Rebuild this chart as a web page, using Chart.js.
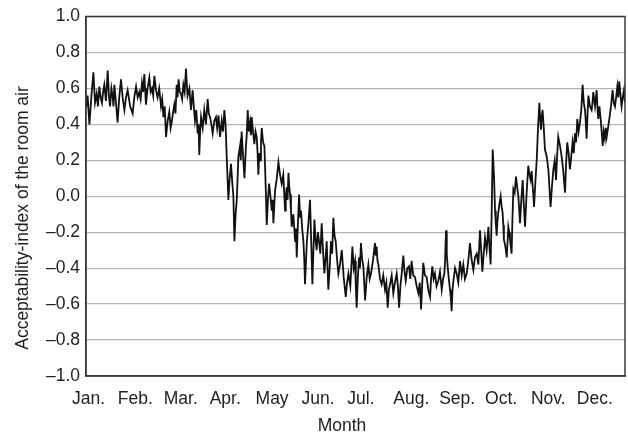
<!DOCTYPE html>
<html>
<head>
<meta charset="utf-8">
<script src="https://cdn.jsdelivr.net/npm/chart.js@4"></script>
<style>
  body { margin: 0; background: #fff; }
  canvas { display: block; }
</style>
</head>
<body>
<canvas id="myChart" width="628" height="435"></canvas>
<script>
// [day of year, acceptability index]
const janToMar = [
  [0, 0.49], [1.1, 0.56], [2.3, 0.40], [3.6, 0.55], [5.0, 0.69], [6.1, 0.52], [7.2, 0.57], [8.1, 0.50],
  [9.0, 0.61], [9.9, 0.55], [10.8, 0.52], [11.6, 0.58], [12.4, 0.62], [13.5, 0.53], [14.7, 0.70], [15.5, 0.56],
  [16.3, 0.50], [17.2, 0.60], [18.1, 0.55], [18.6, 0.50], [19.2, 0.62], [20.3, 0.52], [21.4, 0.41], [22.5, 0.55],
  [23.7, 0.65], [24.8, 0.55], [26.0, 0.48], [27.1, 0.55], [28.2, 0.59], [29.9, 0.50], [31.6, 0.46], [32.7, 0.55],
  [33.9, 0.61], [35.0, 0.55], [36.1, 0.58], [37.0, 0.54], [37.9, 0.63], [38.7, 0.58], [39.5, 0.68], [40.0, 0.60],
  [40.6, 0.51], [41.7, 0.60], [42.9, 0.66], [43.8, 0.58], [44.7, 0.60], [45.5, 0.56], [46.3, 0.67], [47.4, 0.59],
  [48.5, 0.55], [49.6, 0.60], [50.8, 0.50], [51.6, 0.54], [52.4, 0.44], [53.3, 0.50], [54.2, 0.33], [55.3, 0.42],
  [56.4, 0.47], [57.3, 0.38], [58.2, 0.42], [59.0, 0.47], [59.8, 0.51], [60.6, 0.46], [61.4, 0.62], [62.0, 0.55],
  [62.7, 0.65], [63.5, 0.58], [64.3, 0.57], [65.1, 0.54], [65.9, 0.62], [66.8, 0.58], [67.7, 0.71], [68.3, 0.62],
  [68.8, 0.56], [70.0, 0.60], [71.1, 0.48], [71.6, 0.53], [72.2, 0.59], [73.0, 0.50], [73.8, 0.42], [74.7, 0.48],
  [75.6, 0.35], [76.2, 0.40], [76.7, 0.23], [77.3, 0.36], [77.9, 0.44], [79.0, 0.38], [80.1, 0.48], [81.2, 0.40],
  [82.4, 0.54], [83.2, 0.46], [84.0, 0.44], [84.9, 0.40], [85.8, 0.35], [86.9, 0.42], [88.0, 0.44], [88.8, 0.38],
  [89.7, 0.45],
];
const aprToJun = [
  [90.8, 0.33], [91.9, 0.42], [92.8, 0.36], [93.7, 0.48], [94.5, 0.40], [95.3, 0.22], [96.4, -0.02], [97.3, 0.10],
  [98.2, 0.18], [99.1, 0.07], [99.8, 0.0], [100.5, -0.25], [101.3, -0.10], [102.1, -0.02], [103.2, 0.22], [104.3, 0.28],
  [104.8, 0.20], [105.4, 0.36], [106.4, 0.22], [107.3, 0.10], [108.2, 0.26], [108.9, 0.35], [109.5, 0.48], [110.3, 0.36],
  [111.1, 0.41], [111.7, 0.34], [112.2, 0.44], [113.1, 0.36], [114.0, 0.29], [114.8, 0.36], [115.6, 0.33], [116.2, 0.24],
  [116.7, 0.12], [117.3, 0.24], [117.9, 0.20], [118.5, 0.30], [119.0, 0.38], [119.9, 0.30], [120.8, 0.28], [121.7, 0.05],
  [122.4, -0.16], [123.2, -0.02], [124.0, 0.07], [124.9, 0.0], [125.8, -0.08], [126.4, -0.02], [126.9, -0.15], [127.5, -0.05],
  [128.0, 0.03], [129.2, 0.10], [130.3, 0.19], [131.4, 0.12], [132.5, 0.07], [133.6, 0.12], [134.8, -0.08], [135.3, 0.0],
  [135.9, 0.05], [136.5, -0.02], [137.1, 0.13], [137.6, 0.06], [138.2, 0.01], [138.8, -0.08], [139.3, -0.17], [140.4, -0.10],
  [141.6, -0.25], [142.2, -0.18], [142.7, -0.34], [143.5, -0.15], [144.3, 0.01], [145.0, -0.12], [145.6, -0.08], [146.4, -0.18],
  [147.2, -0.25], [147.8, -0.35], [148.3, -0.49], [148.9, -0.38], [149.5, -0.26], [150.6, -0.15], [151.7, -0.02], [152.5, -0.25],
  [153.3, -0.49], [154.0, -0.30], [154.7, -0.13], [155.5, -0.25], [156.2, -0.30], [157.0, -0.20], [157.8, -0.25], [158.7, -0.32],
  [159.6, -0.15], [160.5, -0.30], [161.4, -0.43], [162.2, -0.35], [163.0, -0.25], [163.5, -0.38], [164.1, -0.52], [165.0, -0.40],
  [165.9, -0.25], [166.7, -0.32], [167.5, -0.12], [168.3, -0.22], [169.1, -0.25], [170.0, -0.35], [170.9, -0.43], [172.0, -0.38],
  [173.2, -0.30], [174.5, -0.45], [175.9, -0.56], [176.8, -0.48], [177.7, -0.43], [179.0, -0.50], [180.4, -0.28],
];
const julToSep = [
  [181.3, -0.40], [182.2, -0.36], [182.7, -0.50], [183.3, -0.62], [184.1, -0.45], [184.9, -0.34], [185.5, -0.40], [186.2, -0.26],
  [187.0, -0.35], [187.8, -0.39], [188.4, -0.48], [189.0, -0.58], [190.1, -0.45], [191.2, -0.38], [192.1, -0.46], [193.0, -0.43],
  [194.3, -0.36], [195.7, -0.26], [196.2, -0.33], [196.8, -0.28], [197.4, -0.36], [198.0, -0.38], [199.1, -0.46], [200.2, -0.49],
  [201.3, -0.44], [202.5, -0.52], [203.4, -0.48], [204.3, -0.62], [205.1, -0.52], [205.9, -0.49], [207.0, -0.44], [208.1, -0.54],
  [209.2, -0.48], [210.4, -0.43], [211.2, -0.50], [212.0, -0.62], [212.9, -0.50], [213.8, -0.43], [214.3, -0.38], [214.9, -0.33],
  [215.7, -0.42], [216.5, -0.47], [217.6, -0.40], [218.7, -0.39], [219.6, -0.46], [220.5, -0.36], [221.6, -0.44], [222.8, -0.45],
  [223.9, -0.50], [225.1, -0.54], [226.0, -0.48], [226.9, -0.63], [227.6, -0.50], [228.4, -0.37], [229.5, -0.44], [230.7, -0.45],
  [231.8, -0.52], [233.0, -0.56], [233.7, -0.46], [234.5, -0.39], [235.4, -0.46], [236.3, -0.43], [237.4, -0.50], [238.6, -0.47],
  [239.7, -0.42], [240.9, -0.52], [241.8, -0.46], [242.7, -0.43], [243.2, -0.35], [243.8, -0.19], [244.3, -0.32], [244.9, -0.39],
  [245.7, -0.46], [246.5, -0.52], [247.0, -0.56], [247.6, -0.64], [248.2, -0.52], [248.8, -0.47], [249.9, -0.40], [251.0, -0.43],
  [252.1, -0.48], [253.3, -0.36], [254.4, -0.44], [255.5, -0.38], [256.6, -0.46], [257.8, -0.43], [258.9, -0.36], [260.0, -0.26],
  [261.1, -0.35], [262.3, -0.41], [263.4, -0.34], [264.6, -0.32], [265.7, -0.38], [266.8, -0.19], [267.6, -0.30], [268.4, -0.42],
  [269.3, -0.32], [270.2, -0.23],
];
const octToDec = [
  [271.3, -0.30], [272.5, -0.17], [273.2, -0.28], [274.0, -0.38], [274.7, -0.10], [275.4, 0.26], [275.9, 0.18], [276.3, 0.11],
  [277.0, -0.08], [277.5, -0.15], [278.1, -0.22], [278.6, -0.14], [279.2, -0.09], [280.0, -0.04], [280.8, 0.00], [281.5, -0.06],
  [282.1, -0.09], [282.6, -0.16], [283.0, -0.24], [284.0, -0.28], [284.9, -0.34], [285.5, -0.25], [286.0, -0.17], [286.6, -0.20],
  [287.1, -0.24], [287.7, -0.28], [288.2, -0.32], [288.8, -0.12], [289.4, 0.04], [290.3, 0.02], [291.2, 0.11], [292.0, 0.05],
  [292.8, 0.00], [293.4, -0.08], [293.9, -0.15], [294.8, -0.02], [295.7, 0.09], [296.5, -0.05], [297.3, -0.17], [298.4, 0.02],
  [299.5, 0.17], [300.3, 0.12], [301.1, 0.09], [301.8, 0.14], [302.5, 0.05], [303.0, 0.0], [303.4, -0.06], [304.3, 0.08],
  [305.2, 0.20], [306.1, 0.38], [307.0, 0.52], [307.5, 0.44], [308.1, 0.37], [308.6, 0.44], [309.2, 0.48], [310.0, 0.38],
  [310.8, 0.26], [312.0, 0.22], [313.1, 0.15], [313.8, 0.05], [314.6, -0.06], [315.5, 0.05], [316.5, 0.15], [317.4, 0.20],
  [318.3, 0.09], [319.0, 0.22], [319.8, 0.33], [321.0, 0.28], [322.1, 0.22], [323.2, 0.14], [324.4, 0.02], [325.1, 0.18],
  [325.9, 0.30], [326.8, 0.24], [327.7, 0.15], [328.6, 0.22], [329.5, 0.30], [330.3, 0.24], [331.1, 0.35], [331.9, 0.30],
  [332.7, 0.43], [333.6, 0.36], [334.5, 0.41], [335.4, 0.48], [336.3, 0.62], [337.1, 0.52], [337.9, 0.48], [338.4, 0.42],
  [339.0, 0.32], [339.6, 0.45], [340.2, 0.56], [341.3, 0.50], [342.4, 0.48], [343.0, 0.52], [343.5, 0.58], [344.7, 0.50],
  [345.8, 0.59], [346.3, 0.50], [346.9, 0.43], [347.7, 0.50], [348.5, 0.43], [349.2, 0.36], [349.9, 0.28], [350.6, 0.36],
  [351.4, 0.32], [352.0, 0.38], [352.6, 0.33], [353.5, 0.38], [354.4, 0.43], [355.5, 0.50], [356.6, 0.59], [357.4, 0.52],
  [358.2, 0.50], [359.0, 0.55], [359.8, 0.61], [360.5, 0.55], [361.1, 0.64], [361.9, 0.57], [362.7, 0.50], [363.5, 0.55],
  [364.3, 0.59], [365, 0.52],
];
const monthLabels = ['Jan.', 'Feb.', 'Mar.', 'Apr.', 'May', 'Jun.', 'Jul.', 'Aug.', 'Sep.', 'Oct.', 'Nov.', 'Dec.'];
const xTitle = 'Month';
const yTitle = 'Acceptability-index of the room air';

const FONT = '"Liberation Sans", Arial, Helvetica, sans-serif';

// labels are left aligned, one every ~31 days, starting a little left of the axis
const LABEL_START = -9.5;
const LABEL_STEP = 31.08;

// draws the box round the plot and the two axis titles
const frameAndTitles = {
  id: 'frameAndTitles',
  afterDraw(chart) {
    const { ctx, chartArea } = chart;
    ctx.save();
    ctx.strokeStyle = '#3a3a3a';
    ctx.lineWidth = 1.5;
    ctx.strokeRect(chartArea.left, chartArea.top, chartArea.right - chartArea.left, chartArea.bottom - chartArea.top);

    ctx.fillStyle = '#1e1e1e';
    ctx.font = '17.5px ' + FONT;
    ctx.textAlign = 'center';
    ctx.textBaseline = 'middle';
    ctx.fillText(xTitle, 342, 426);
    ctx.translate(23, 218);
    ctx.rotate(-Math.PI / 2);
    ctx.fillText(yTitle, 0, 0);
    ctx.restore();
  },
};

const series = [...janToMar, ...aprToJun, ...julToSep, ...octToDec];

const chart1 = document.getElementById('myChart').getContext('2d');
const myChart = new Chart(chart1, {
  type: 'line',
  data: {
    datasets: [
      {
        label: 'Acceptability',
        data: series.map(([d, v]) => ({ x: d, y: v })),
        borderColor: '#111111',
        borderWidth: 1.8,
        pointRadius: 0,
        tension: 0,
      },
    ],
  },
  options: {
    responsive: false,
    animation: false,
    devicePixelRatio: 1,
    layout: {
      padding: { top: 16, right: 3, left: 0, bottom: 0 },
    },
    scales: {
      x: {
        type: 'linear',
        min: 0,
        max: 365,
        grid: { display: false, drawTicks: false },
        border: { color: '#3a3a3a', width: 1.5 },
        afterBuildTicks: (scale) => {
          scale.ticks = monthLabels.map((m, i) => ({ value: LABEL_START + i * LABEL_STEP }));
        },
        afterFit: (scale) => {
          scale.height = 59;
        },
        ticks: {
          autoSkip: false,
          maxRotation: 0,
          align: 'start',
          padding: 13,
          color: '#1e1e1e',
          font: { family: FONT, size: 17.5 },
          callback: (value, index) => monthLabels[index],
        },
      },
      y: {
        min: -1,
        max: 1,
        grid: { color: '#b4b4b4', lineWidth: 1.3, drawTicks: false },
        border: { color: '#3a3a3a', width: 1.5 },
        afterFit: (scale) => {
          scale.width = 86;
        },
        ticks: {
          stepSize: 0.2,
          padding: 6,
          color: '#1e1e1e',
          font: { family: FONT, size: 17.5 },
          callback: (value) => {
            const v = Math.round(value * 10) / 10;
            return (v < 0 ? '\u2013' : '') + Math.abs(v).toFixed(1);
          },
        },
      },
    },
    plugins: {
      legend: { display: false },
      tooltip: { enabled: false },
    },
  },
  plugins: [frameAndTitles],
});
</script>
</body>
</html>
